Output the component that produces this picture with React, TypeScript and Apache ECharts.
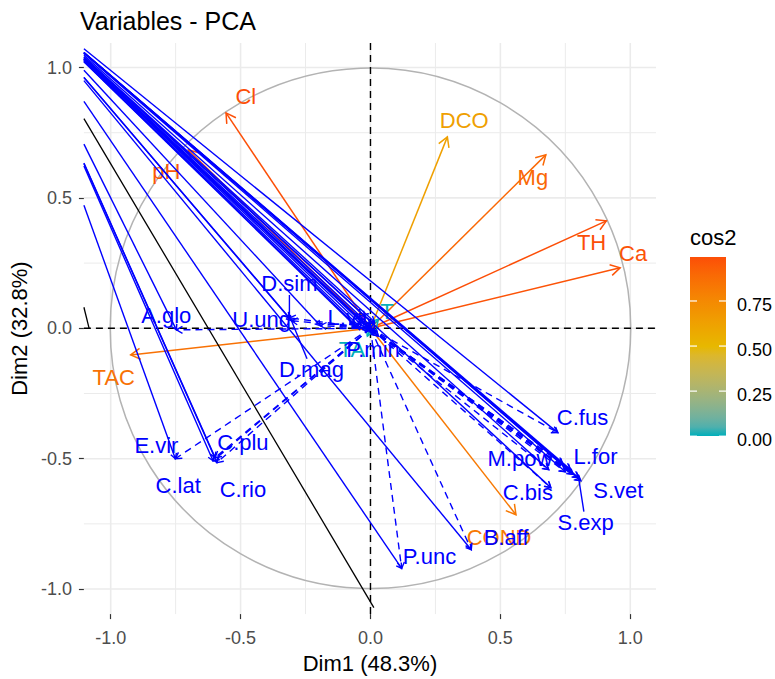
import React, { useEffect, useRef } from "react";
import * as echarts from "echarts";

const FONT = "'Liberation Sans', Arial, Helvetica, sans-serif";

// ---------- axes ----------
const TITLE = "Variables - PCA";
const X_TITLE = "Dim1 (48.3%)";
const Y_TITLE = "Dim2 (32.8%)";
const X_LIMITS = [-1.103, 1.099];
const Y_LIMITS = [-1.096, 1.094];
const MAJOR_BREAKS = [-1, -0.5, 0, 0.5, 1];
const MINOR_BREAKS = [-0.75, -0.25, 0.25, 0.75];
const CIRCLE_RADIUS = 1;

// ---------- active variables (coloured by cos2) ----------
const ACTIVE_NAMES = ["Cl", "pH", "DCO", "Mg", "TH", "Ca", "TAC", "COND", "T", "TA"];
const ACTIVE_DIM1 = [-0.556, -0.701, 0.296, 0.675, 0.908, 0.961, -0.923, 0.56, 0.03, -0.012];
const ACTIVE_DIM2 = [0.826, 0.684, 0.734, 0.665, 0.412, 0.232, -0.102, -0.715, 0.035, -0.03];
const ACTIVE_COS2 = [0.99, 0.96, 0.63, 0.9, 0.994, 0.977, 0.862, 0.825, 0.002, 0.001];
const ACTIVE_LABEL_DIM1 = [-0.48, -0.786, 0.361, 0.625, 0.851, 1.011, -0.988, 0.495, 0.063, -0.071];
const ACTIVE_LABEL_DIM2 = [0.887, 0.603, 0.795, 0.58, 0.328, 0.285, -0.19, -0.803, 0.063, -0.082];

// ---------- supplementary variables (blue) ----------
const SUP_START = [-1.41, 1.32];
const SUP_NAMES = ["C.fus", "L.for", "S.vet", "S.exp", "M.pow", "C.bis", "B.aff", "P.unc", "C.plu", "C.rio", "C.lat", "E.vir", "A.glo", "U.ung", "D.sim", "D.mag", "L.vir", "P.min"];
const SUP_DIM1 = [0.721, 0.77, 0.809, 0.801, 0.686, 0.694, 0.388, 0.12, -0.598, -0.591, -0.606, -0.751, -0.747, -0.193, -0.312, -0.304, -0.06, 0.02];
const SUP_DIM2 = [-0.4, -0.542, -0.584, -0.573, -0.542, -0.611, -0.849, -0.921, -0.496, -0.515, -0.508, -0.5, -0.006, 0.01, 0.04, 0.029, 0.015, -0.02];
const SUP_LABEL_DIM1 = [0.816, 0.866, 0.954, 0.828, 0.575, 0.606, 0.522, 0.227, -0.491, -0.491, -0.74, -0.824, -0.786, -0.419, -0.312, -0.227, -0.085, 0.01];
const SUP_LABEL_DIM2 = [-0.343, -0.492, -0.622, -0.745, -0.5, -0.63, -0.803, -0.876, -0.439, -0.619, -0.603, -0.45, 0.048, 0.033, 0.17, -0.159, 0.04, -0.082];
const SUP_LABEL_SEGMENT = [false, false, false, true, false, false, false, false, false, false, false, false, false, false, true, true, false, false];

// supplementary variables whose labels are hidden (overlaps)
const SUP_HIDDEN_DIM1 = [-0.045, -0.03, -0.02, -0.06, 0.0, -0.01, 0.03, -0.035, 0.015, 0.78, 0.75, 0.74];
const SUP_HIDDEN_DIM2 = [0.035, 0.02, 0.045, 0.01, 0.01, -0.01, -0.03, 0.0, 0.025, -0.56, -0.55, -0.52];

// black segments
const BLACK_DIM1 = [0.013, -1.083];
const BLACK_DIM2 = [-1.071, 0.0];

// ---------- legend ----------
const LEGEND_TITLE = "cos2";
const LEGEND_BREAKS = [0, 0.25, 0.5, 0.75];
const GRADIENT_COLS = ["#00AFBB", "#E7B800", "#FC4E07"];

// ---------- colour helpers (Lab interpolation like ggplot) ----------
function hexToRgb(h: string) {
  const n = parseInt(h.slice(1), 16);
  return [(n >> 16) & 255, (n >> 8) & 255, n & 255];
}
function srgbToLin(c: number) {
  c /= 255;
  return c <= 0.04045 ? c / 12.92 : Math.pow((c + 0.055) / 1.055, 2.4);
}
function linToSrgb(c: number) {
  const v = c <= 0.0031308 ? 12.92 * c : 1.055 * Math.pow(Math.max(c, 0), 1 / 2.4) - 0.055;
  return Math.round(Math.max(0, Math.min(1, v)) * 255);
}
function rgbToLab(rgb: number[]) {
  const R = srgbToLin(rgb[0]), G = srgbToLin(rgb[1]), B = srgbToLin(rgb[2]);
  const X = (0.4124 * R + 0.3576 * G + 0.1805 * B) / 0.95047;
  const Y = 0.2126 * R + 0.7152 * G + 0.0722 * B;
  const Z = (0.0193 * R + 0.1192 * G + 0.9505 * B) / 1.08883;
  const f = (t: number) => (t > 0.008856 ? Math.cbrt(t) : 7.787 * t + 16 / 116);
  const fx = f(X), fy = f(Y), fz = f(Z);
  return [116 * fy - 16, 500 * (fx - fy), 200 * (fy - fz)];
}
function labToRgb(lab: number[]) {
  const fy = (lab[0] + 16) / 116, fx = fy + lab[1] / 500, fz = fy - lab[2] / 200;
  const finv = (t: number) => (t * t * t > 0.008856 ? t * t * t : (t - 16 / 116) / 7.787);
  const X = finv(fx) * 0.95047, Y = finv(fy), Z = finv(fz) * 1.08883;
  const R = 3.2406 * X - 1.5372 * Y - 0.4986 * Z;
  const G = -0.9689 * X + 1.8758 * Y + 0.0415 * Z;
  const B = 0.0557 * X - 0.204 * Y + 1.057 * Z;
  return [linToSrgb(R), linToSrgb(G), linToSrgb(B)];
}
const LAB_STOPS = GRADIENT_COLS.map((h) => rgbToLab(hexToRgb(h)));
function gradientColor(t: number) {
  t = Math.max(0, Math.min(1, t));
  const n = LAB_STOPS.length;
  const s = t * (n - 1);
  const i = Math.min(n - 2, Math.floor(s));
  const f = s - i;
  const a = LAB_STOPS[i], b = LAB_STOPS[i + 1];
  const rgb = labToRgb([a[0] + (b[0] - a[0]) * f, a[1] + (b[1] - a[1]) * f, a[2] + (b[2] - a[2]) * f]);
  return `rgb(${rgb[0]},${rgb[1]},${rgb[2]})`;
}
const COS2_MIN = Math.min(...ACTIVE_COS2);
const COS2_MAX = Math.max(...ACTIVE_COS2);
const cos2Color = (v: number) => gradientColor((v - COS2_MIN) / (COS2_MAX - COS2_MIN));

// ---------- drawing helpers ----------
function clipSegment(x1: number, y1: number, x2: number, y2: number, r: any) {
  let t0 = 0, t1 = 1;
  const dx = x2 - x1, dy = y2 - y1;
  const p = [-dx, dx, -dy, dy];
  const q = [x1 - r.x, r.x + r.width - x1, y1 - r.y, r.y + r.height - y1];
  for (let i = 0; i < 4; i++) {
    if (p[i] === 0) {
      if (q[i] < 0) return null;
    } else {
      const t = q[i] / p[i];
      if (p[i] < 0) {
        if (t > t1) return null;
        if (t > t0) t0 = t;
      } else {
        if (t < t0) return null;
        if (t < t1) t1 = t;
      }
    }
  }
  return [x1 + t0 * dx, y1 + t0 * dy, x1 + t1 * dx, y1 + t1 * dy];
}

type SegOpts = { width: number; dash?: number[]; head?: number; clip?: boolean; z: number };

function segmentSeries(id: string, segs: number[][], colorOf: (i: number) => string, o: SegOpts) {
  return {
    type: "custom",
    id,
    silent: true,
    clip: !!o.clip,
    z: o.z,
    data: segs,
    encode: { x: [0, 2], y: [1, 3] },
    renderItem: (params: any, api: any) => {
      const i = params.dataIndex;
      const a = api.coord([api.value(0), api.value(1)]);
      const b = api.coord([api.value(2), api.value(3)]);
      const col = colorOf(i);
      let x1 = a[0], y1 = a[1], x2 = b[0], y2 = b[1];
      if (o.clip) {
        const c = clipSegment(x1, y1, x2, y2, params.coordSys);
        if (!c) return null;
        [x1, y1, x2, y2] = c;
      }
      const lineStyle: any = { stroke: col, lineWidth: o.width, fill: "none" };
      if (o.dash) lineStyle.lineDash = o.dash;
      const children: any[] = [{ type: "line", shape: { x1, y1, x2, y2 }, style: lineStyle }];
      if (o.head) {
        const ang = Math.atan2(b[1] - a[1], b[0] - a[0]);
        const L = o.head, w = Math.PI / 6;
        children.push({
          type: "polyline",
          shape: {
            points: [
              [b[0] - L * Math.cos(ang - w), b[1] - L * Math.sin(ang - w)],
              [b[0], b[1]],
              [b[0] - L * Math.cos(ang + w), b[1] - L * Math.sin(ang + w)],
            ],
          },
          style: { stroke: col, lineWidth: o.width, fill: "none" },
        });
      }
      return { type: "group", children };
    },
  };
}

function labelSeries(id: string, names: string[], lx: number[], ly: number[], px: number[], py: number[], colorOf: (i: number) => string, segFlags: boolean[] | null, z: number) {
  return {
    type: "custom",
    id,
    silent: true,
    z,
    data: names.map((_, i) => [lx[i], ly[i], px[i], py[i]]),
    encode: { x: [0, 2], y: [1, 3] },
    renderItem: (params: any, api: any) => {
      const i = params.dataIndex;
      const l = api.coord([api.value(0), api.value(1)]);
      const p = api.coord([api.value(2), api.value(3)]);
      const col = colorOf(i);
      const children: any[] = [];
      if (segFlags && segFlags[i]) {
        const dx = p[0] - l[0], dy = p[1] - l[1];
        const hw = names[i].length * 6, hh = 11;
        const t = Math.min(dx !== 0 ? hw / Math.abs(dx) : Infinity, dy !== 0 ? hh / Math.abs(dy) : Infinity);
        children.push({
          type: "line",
          shape: { x1: l[0] + t * dx, y1: l[1] + t * dy, x2: p[0], y2: p[1] },
          style: { stroke: col, lineWidth: 1.4, fill: "none" },
        });
      }
      children.push({
        type: "text",
        x: l[0],
        y: l[1],
        style: { text: names[i], fill: col, fontSize: 22, fontFamily: FONT, align: "center", verticalAlign: "middle" },
      });
      return { type: "group", children };
    },
  };
}

export default function App() {
  const ref = useRef<HTMLDivElement>(null);

  useEffect(() => {
    if (!ref.current) return;
    const chart = echarts.init(ref.current, null, { renderer: "svg" });

    const [xmin, xmax] = X_LIMITS;
    const [ymin, ymax] = Y_LIMITS;

    const majorGrid: number[][] = [];
    MAJOR_BREAKS.forEach((v) => {
      majorGrid.push([v, ymin, v, ymax]);
      majorGrid.push([xmin, v, xmax, v]);
    });
    const minorGrid: number[][] = [];
    MINOR_BREAKS.forEach((v) => {
      minorGrid.push([v, ymin, v, ymax]);
      minorGrid.push([xmin, v, xmax, v]);
    });
    const zeroLines = [
      [xmin, 0, xmax, 0],
      [0, ymin, 0, ymax],
    ];

    const activeSegs = ACTIVE_NAMES.map((_, i) => [0, 0, ACTIVE_DIM1[i], ACTIVE_DIM2[i]]);
    const allSupX = [...SUP_DIM1, ...SUP_HIDDEN_DIM1];
    const allSupY = [...SUP_DIM2, ...SUP_HIDDEN_DIM2];
    const supSolid = allSupX.map((x, i) => [SUP_START[0], SUP_START[1], x, allSupY[i]]);
    const supDashed = allSupX.map((x, i) => [0, 0, x, allSupY[i]]);
    const blackSegs = BLACK_DIM1.map((x, i) => [SUP_START[0], SUP_START[1], x, BLACK_DIM2[i]]);

    const BAR = { x: 690, y: 257, w: 36, h: 179 };
    const stops = Array.from({ length: 21 }, (_, k) => ({ offset: k / 20, color: gradientColor(1 - k / 20) }));
    const legendEls: any[] = [
      {
        type: "text",
        x: BAR.x,
        y: 237,
        style: { text: LEGEND_TITLE, fontSize: 22, fontFamily: FONT, fill: "#000", align: "left", verticalAlign: "middle" },
      },
      {
        type: "rect",
        shape: { x: BAR.x, y: BAR.y, width: BAR.w, height: BAR.h },
        style: { fill: { type: "linear", x: 0, y: 0, x2: 0, y2: 1, colorStops: stops } },
      },
    ];
    LEGEND_BREAKS.forEach((v) => {
      const ty = BAR.y + BAR.h - ((v - COS2_MIN) / (COS2_MAX - COS2_MIN)) * BAR.h;
      legendEls.push({ type: "line", shape: { x1: BAR.x, y1: ty, x2: BAR.x + 7, y2: ty }, style: { stroke: "#fff", lineWidth: 1.2 } });
      legendEls.push({ type: "line", shape: { x1: BAR.x + BAR.w - 7, y1: ty, x2: BAR.x + BAR.w, y2: ty }, style: { stroke: "#fff", lineWidth: 1.2 } });
      legendEls.push({
        type: "text",
        x: 737,
        y: ty + 4,
        style: { text: v.toFixed(2), fontSize: 18, fontFamily: FONT, fill: "#000", align: "left", verticalAlign: "middle" },
      });
    });

    const axisCommon = {
      type: "value",
      axisLine: { show: false, onZero: false },
      splitLine: { show: false },
      axisTick: { show: true, customValues: MAJOR_BREAKS, length: 5, lineStyle: { color: "#333", width: 1.2 } },
      nameLocation: "middle",
      nameTextStyle: { fontSize: 22, color: "#000", fontFamily: FONT },
    };

    const option: any = {
      animation: false,
      backgroundColor: "#fff",
      title: {
        text: TITLE,
        left: 75,
        top: 3,
        textStyle: { fontSize: 25, fontWeight: "normal", color: "#000", fontFamily: FONT },
      },
      grid: { left: 80, top: 43, width: 576, height: 572 },
      xAxis: {
        ...axisCommon,
        min: xmin,
        max: xmax,
        name: X_TITLE,
        nameGap: 35,
        axisLabel: { customValues: MAJOR_BREAKS, formatter: (v: number) => v.toFixed(1), fontSize: 18, color: "#4D4D4D", margin: 15, fontFamily: FONT },
      },
      yAxis: {
        ...axisCommon,
        min: ymin,
        max: ymax,
        name: Y_TITLE,
        nameGap: 47,
        nameRotate: 90,
        axisLabel: { customValues: MAJOR_BREAKS, formatter: (v: number) => v.toFixed(1), fontSize: 18, color: "#4D4D4D", margin: 12, fontFamily: FONT },
      },
      graphic: legendEls,
      series: [
        segmentSeries("minorGrid", minorGrid, () => "#EBEBEB", { width: 1.0, z: 1 }),
        segmentSeries("majorGrid", majorGrid, () => "#EBEBEB", { width: 1.6, z: 1 }),
        {
          type: "custom",
          id: "circle",
          silent: true,
          z: 2,
          data: [[0, 0]],
          renderItem: (params: any, api: any) => {
            const c = api.coord([0, 0]);
            const s = api.size([CIRCLE_RADIUS, CIRCLE_RADIUS]);
            return {
              type: "circle",
              shape: { cx: c[0], cy: c[1], r: (s[0] + s[1]) / 2 },
              style: { stroke: "#B3B3B3", lineWidth: 1.5, fill: "none" },
            };
          },
        },
        segmentSeries("zero", zeroLines, () => "#000", { width: 1.4, dash: [7, 5], z: 3 }),
        segmentSeries("activeArrows", activeSegs, (i) => cos2Color(ACTIVE_COS2[i]), { width: 1.5, head: 11, z: 4 }),
        labelSeries("activeLabels", ACTIVE_NAMES, ACTIVE_LABEL_DIM1, ACTIVE_LABEL_DIM2, ACTIVE_DIM1, ACTIVE_DIM2, (i) => cos2Color(ACTIVE_COS2[i]), null, 5),
        segmentSeries("supSolid", supSolid, () => "#0000FF", { width: 1.4, head: 6, clip: true, z: 6 }),
        segmentSeries("black", blackSegs, () => "#000", { width: 1.3, clip: true, z: 6 }),
        segmentSeries("supDashed", supDashed, () => "#0000FF", { width: 1.4, dash: [7, 5], head: 7, z: 7 }),
        labelSeries("supLabels", SUP_NAMES, SUP_LABEL_DIM1, SUP_LABEL_DIM2, SUP_DIM1, SUP_DIM2, () => "#0000FF", SUP_LABEL_SEGMENT, 8),
      ],
    };

    chart.setOption(option);
    return () => chart.dispose();
  }, []);

  return (
    <div
      ref={ref}
      style={{ position: "absolute", left: 0, top: 0, width: 775, height: 679, background: "#fff" }}
    />
  );
}
